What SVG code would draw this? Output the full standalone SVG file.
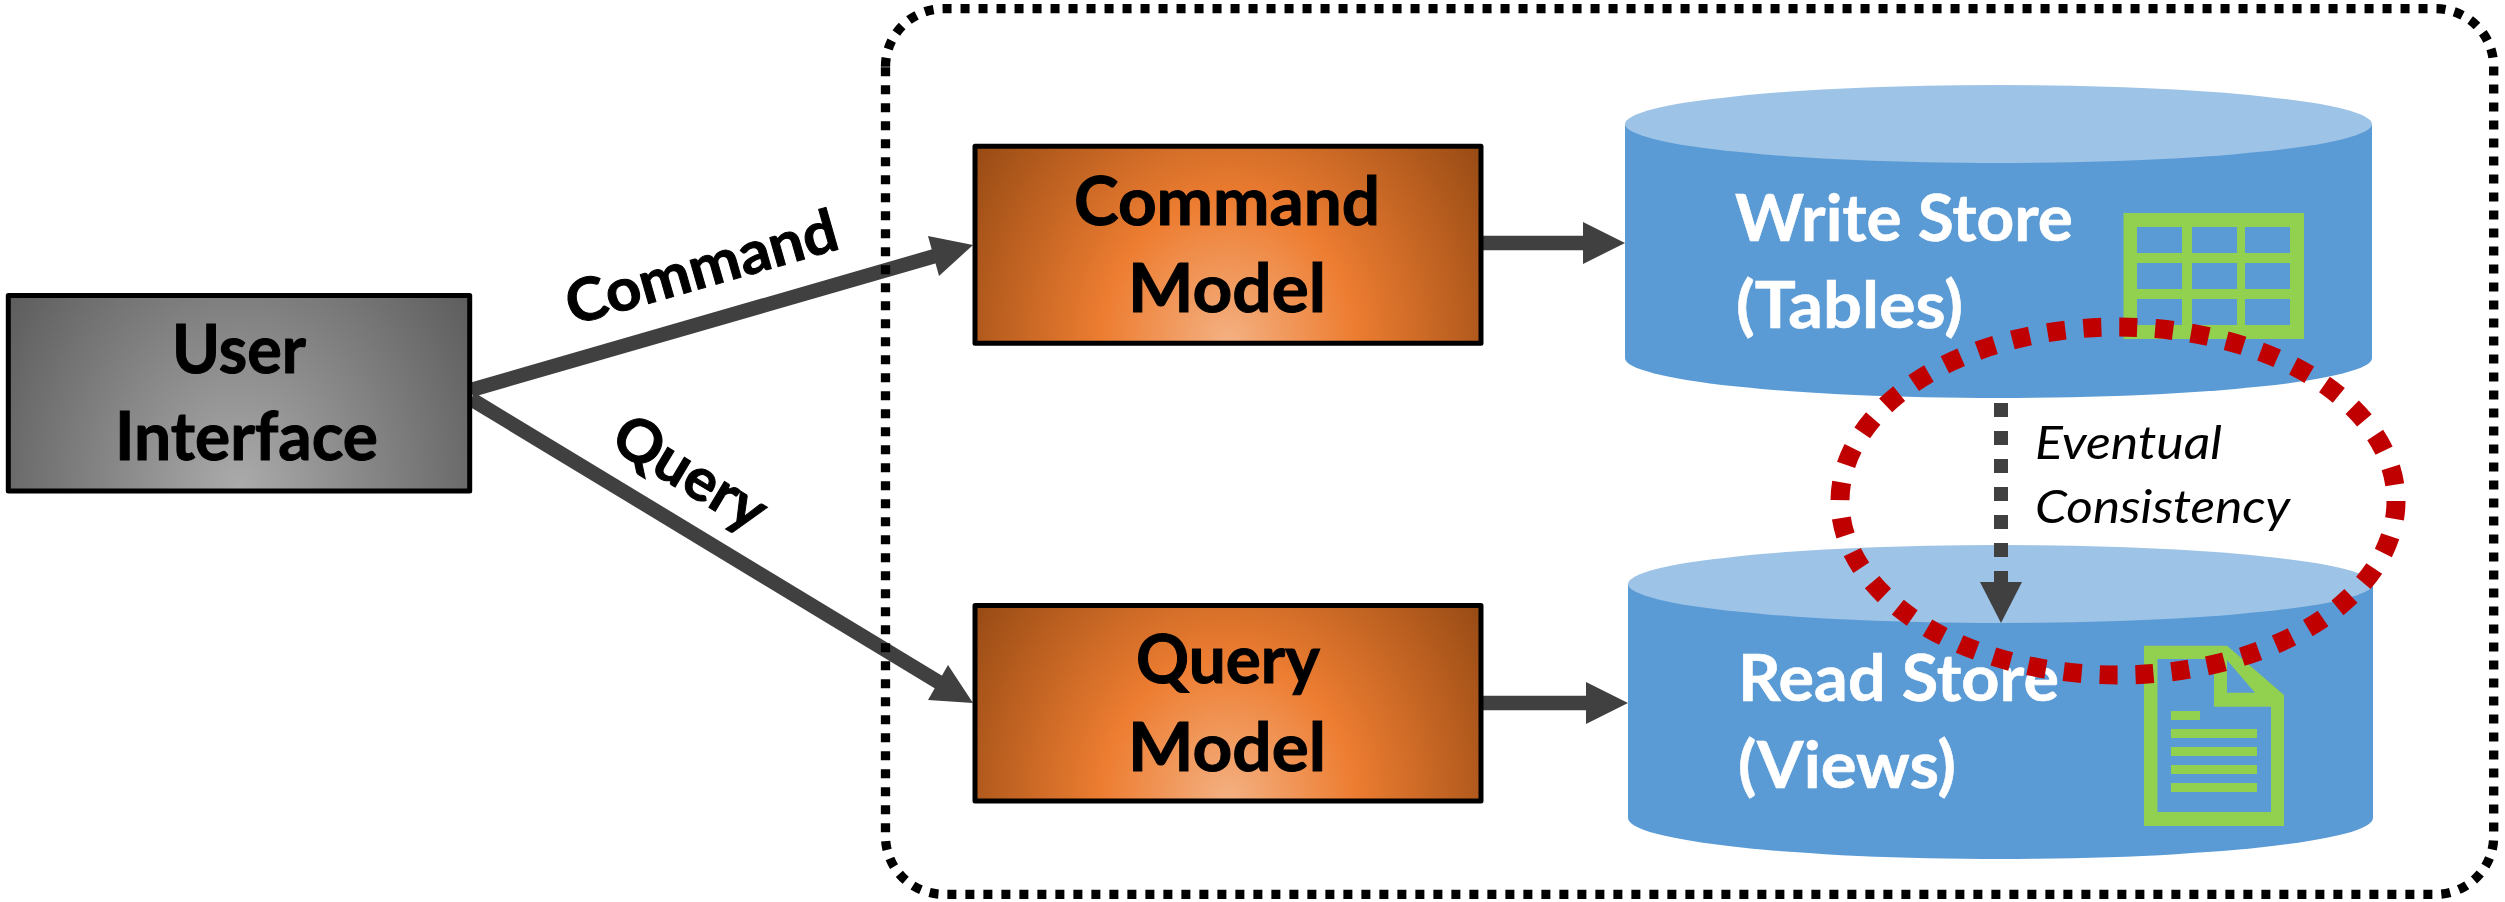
<svg xmlns="http://www.w3.org/2000/svg" width="2505" height="902" viewBox="0 0 2505 902">
<style>
text{font-family:Lato,Carlito,"Open Sans",sans-serif;}
.b{font-weight:700;font-size:66px;fill:#000;stroke:#000;stroke-width:1}
.l{font-size:59px}
.w{font-weight:700;font-size:65px;fill:#fff;stroke:#fff;stroke-width:.6}
.i{font-style:italic;font-size:47px;fill:#000}
.box{stroke:#000;stroke-width:5;stroke-linejoin:round}
.bl{fill:#5B9BD5}.tp{fill:#9DC3E6}.gr{fill:#92D050}
.c{stroke:#404040;stroke-width:14.500;fill:none}
.h{fill:#404040}
</style>
<defs>
<radialGradient id="og" gradientUnits="objectBoundingBox" cx="0.5" cy="1" r="0.593" gradientTransform="translate(0.5 1) scale(1 2.91) translate(-0.5 -1)">
<stop offset="0" stop-color="#F4B183"/><stop offset="0.42" stop-color="#ED7D31"/><stop offset="1" stop-color="#9A4C15"/>
</radialGradient>
<radialGradient id="gg" gradientUnits="objectBoundingBox" cx="0.5" cy="1" r="0.593" gradientTransform="translate(0.5 1) scale(1 2.91) translate(-0.5 -1)">
<stop offset="0" stop-color="#ABABAB"/><stop offset="1" stop-color="#5E5E5E"/>
</radialGradient>
</defs>
<g id="connectors">
<path class="c" d="M471 390L935 256"/><polygon class="h" points="973,245 928,236 939,276"/>
<path class="c" d="M471 399L940 683"/><polygon class="h" points="973,703 948,665 928,700"/>
<path class="c" d="M1481 243H1585"/><polygon class="h" points="1625,243 1583,222 1583,264"/>
<path class="c" d="M1481 703H1588"/><polygon class="h" points="1628,703 1586,682 1586,724"/>
</g>
<g id="boundary"><path d="M885.500 66.700A58 58 0 0 1 943.500 8.700H2435.700A58 58 0 0 1 2493.700 66.700V836.300A58 58 0 0 1 2435.700 894.300H943.500A58 58 0 0 1 885.500 836.300Z" fill="none" stroke="#000" stroke-width="9.300" stroke-dasharray="9 9"/></g>
<g id="user-interface"><rect class="box" x="8.300" y="295.600" width="461.400" height="195.500" fill="url(#gg)"/>
<text class="b" x="172" y="372.700" textLength="134" lengthAdjust="spacingAndGlyphs">User</text>
<text class="b" x="115" y="460" textLength="263" lengthAdjust="spacingAndGlyphs">Interface</text></g>
<g id="command-label"><text class="b l" transform="translate(707 287) rotate(-16)" x="-140" textLength="280" lengthAdjust="spacingAndGlyphs">Command</text></g>
<g id="query-label"><text class="b l" transform="translate(680 490) rotate(31)" x="-84" textLength="168" lengthAdjust="spacingAndGlyphs">Query</text></g>
<g id="command-model"><rect class="box" x="975" y="146.300" width="506" height="197" fill="url(#og)"/>
<text class="b" x="1074" y="225" textLength="306" lengthAdjust="spacingAndGlyphs">Command</text>
<text class="b" x="1128" y="312" textLength="198" lengthAdjust="spacingAndGlyphs">Model</text></g>
<g id="query-model"><rect class="box" x="975" y="605.500" width="506" height="195.500" fill="url(#og)"/>
<text class="b" x="1136" y="683" textLength="184" lengthAdjust="spacingAndGlyphs">Query</text>
<text class="b" x="1128" y="770.700" textLength="198" lengthAdjust="spacingAndGlyphs">Model</text></g>
<g id="write-store">
<path class="bl" d="M1625 124V358A373.500 40 0 0 0 2372 358V124Z"/>
<ellipse class="tp" cx="1998.500" cy="124" rx="373.500" ry="39"/>
<text class="w" x="1735" y="241" textLength="338" lengthAdjust="spacingAndGlyphs">Write Store</text>
<text class="w" x="1736" y="328" textLength="227" lengthAdjust="spacingAndGlyphs">(Tables)</text>
<path class="gr" fill-rule="evenodd" d="M2123.500 213H2304V339H2123.500ZM2137 227V253H2182V227ZM2192 227V253H2237V227ZM2245 227V253H2290V227ZM2137 263V289H2182V263ZM2192 263V289H2237V263ZM2245 263V289H2290V263ZM2137 299V325H2182V299ZM2192 299V325H2237V299ZM2245 299V325H2290V299Z"/>
</g>
<g id="read-store">
<path class="bl" d="M1628 584V818A372.500 41 0 0 0 2373 818V584Z"/>
<ellipse class="tp" cx="2000.500" cy="584" rx="372.500" ry="39"/>
<text class="w" x="1738" y="701" textLength="321" lengthAdjust="spacingAndGlyphs">Read Store</text>
<text class="w" x="1738" y="788" textLength="218" lengthAdjust="spacingAndGlyphs">(Views)</text>
<path class="gr" fill-rule="evenodd" d="M2144 645.700H2227L2284 695V826H2144ZM2157.500 659V812H2271V706.700H2214V659ZM2227 660V692.700H2255Z"/>
<path class="gr" d="M2171 711h29v9h-29zM2171 729h86v9h-86zM2171 747h86v9h-86zM2171 765h86v9h-86zM2171 783h86v9h-86z"/>
</g>
<g id="eventual-consistency-arrow">
<path d="M2001 403V585" fill="none" stroke="#404040" stroke-width="14" stroke-dasharray="14 14"/>
<polygon class="h" points="2001,623 1980,582 2022,582"/>
</g>
<g id="eventual-consistency-label">
<text class="i" x="2035" y="459" textLength="187" lengthAdjust="spacingAndGlyphs">Eventual</text>
<text class="i" x="2035" y="523" textLength="255" lengthAdjust="spacingAndGlyphs">Consistency</text>
</g>
<g id="highlight"><ellipse cx="2118" cy="501" rx="278" ry="174" fill="none" stroke="#C00000" stroke-width="19" stroke-dasharray="18 18"/></g>
</svg>
